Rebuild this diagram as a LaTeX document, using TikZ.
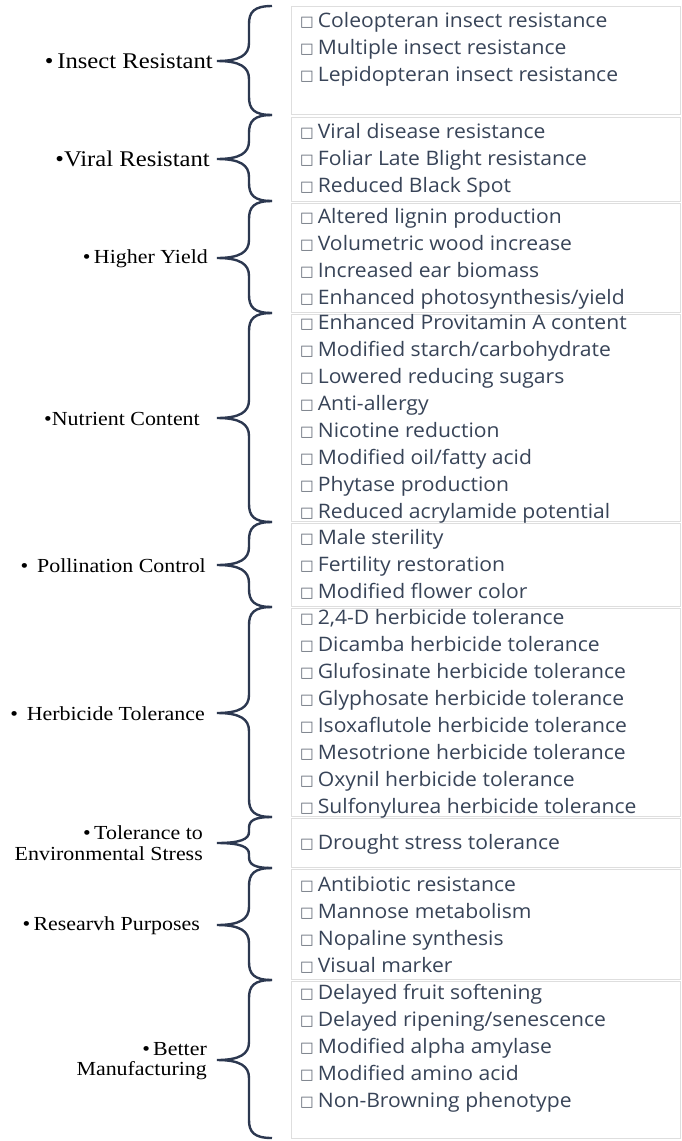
\documentclass[tikz,border=0pt]{standalone}
\usepackage{fontspec}
\setmainfont[FakeStretch=1.1]{Liberation Serif}
\newfontfamily\itemfont[FakeStretch=1.06]{Open Sans}
\newfontfamily\symfont{DejaVu Sans}

\definecolor{itemtext}{RGB}{56,68,88}
\definecolor{bracecol}{RGB}{44,56,80}
\definecolor{boxline}{RGB}{222,222,222}
\definecolor{chkcol}{RGB}{96,104,116}

\tikzset{
  item/.style={anchor=base west, inner sep=0pt, text=itemtext,
    font=\itemfont\fontsize{20}{24}\selectfont},
  lab/.style={anchor=east, inner sep=0pt, align=right,
    font=\fontsize{20}{20.5}\selectfont},
  biglab/.style={lab, font=\fontsize{22.5}{24}\selectfont},
  groupbox/.style={draw=boxline, line width=0.9bp},
  curly/.style={draw=bracecol, line width=2.4bp},
}

% empty check box in front of each entry
\newcommand\chk{\raisebox{0.5bp}{\symfont\fontsize{14.5}{14.5}\selectfont\color{chkcol}□}\hspace{4bp}}

% curly brace: top, bottom, tip, bend radius
\newcommand\curlyat[4]{%
  \draw[curly] (272,#1) .. controls (254,#1) and (249,#1+#4/3) .. (249,#1+#4)
    -- (249,#3-#4) .. controls (249,#3-#4/3) and (240,#3) .. (217,#3)
    .. controls (240,#3) and (249,#3+#4/3) .. (249,#3+#4)
    -- (249,#2-#4) .. controls (249,#2-#4/3) and (254,#2) .. (272,#2);}

% box with its entries: name, top, bottom, first entry centre, entries
\newcommand\entrygroup[5]{%
  \draw[groupbox] (291,#2) rectangle (680,#3);
  \foreach \t [count=\i from 0] in {#5} {
    \node[item] (#1-\i) at (300,{#4+27*\i+7}) {\chk\t};
  }}

\begin{document}
\begin{tikzpicture}[x=1bp,y=-1bp]
\useasboundingbox (0,0) rectangle (682,1141);
\fill[white] (0,0) rectangle (682,1141);

% right-hand boxes with entries
\entrygroup{ins}{6}{114}{20}{Coleopteran insect resistance,Multiple insect resistance,Lepidopteran insect resistance}
\entrygroup{vir}{117}{201}{131}{Viral disease resistance,Foliar Late Blight resistance,Reduced Black Spot}
\entrygroup{yld}{203}{312}{216}{Altered lignin production,Volumetric wood increase,Increased ear biomass,Enhanced photosynthesis/yield}
\entrygroup{nut}{314}{521}{322}{Enhanced Provitamin A content,Modified starch/carbohydrate,Lowered reducing sugars,Anti-allergy,Nicotine reduction,Modified oil/fatty acid,Phytase production,Reduced acrylamide potential}
\entrygroup{pol}{523}{606}{537}{Male sterility,Fertility restoration,Modified flower color}
\entrygroup{herb}{608}{816}{617}{{2,4-D herbicide tolerance},Dicamba herbicide tolerance,Glufosinate herbicide tolerance,Glyphosate herbicide tolerance,Isoxaflutole herbicide tolerance,Mesotrione herbicide tolerance,Oxynil herbicide tolerance,Sulfonylurea herbicide tolerance}
\entrygroup{env}{818}{867}{842}{Drought stress tolerance}
\entrygroup{res}{869}{979}{884}{Antibiotic resistance,Mannose metabolism,Nopaline synthesis,Visual marker}
\entrygroup{man}{981}{1138}{992}{Delayed fruit softening,Delayed ripening/senescence,Modified alpha amylase,Modified amino acid,Non-Browning phenotype}

% braces
\curlyat{6}{115}{61}{18}
\curlyat{115}{201}{159}{18}
\curlyat{201}{313}{258}{18}
\curlyat{313}{522}{418}{18}
\curlyat{522}{607}{565}{18}
\curlyat{607}{817}{713}{18}
\curlyat{817}{868}{843}{11}
\curlyat{868}{980}{925}{18}
\curlyat{980}{1138}{1060}{18}

% category labels
\node[biglab] (l-ins) at (213,61) {•\,Insect Resistant};
\node[biglab] (l-vir) at (210,159) {•Viral Resistant};
\node[lab] (l-yld) at (208,259) {•\,Higher Yield};
\node[lab] (l-nut) at (200,419) {•Nutrient Content};
\node[lab] (l-pol) at (206,566) {•\;\,Pollination Control};
\node[lab] (l-herb) at (205,714) {•\;\,Herbicide Tolerance};
\node[lab] (l-env) at (203,843) {•\,Tolerance to\\Environmental Stress};
\node[lab] (l-res) at (200,926) {•\,Researvh Purposes};
\node[lab] (l-man) at (207,1061) {•\,Better\\Manufacturing};
\end{tikzpicture}
\end{document}
